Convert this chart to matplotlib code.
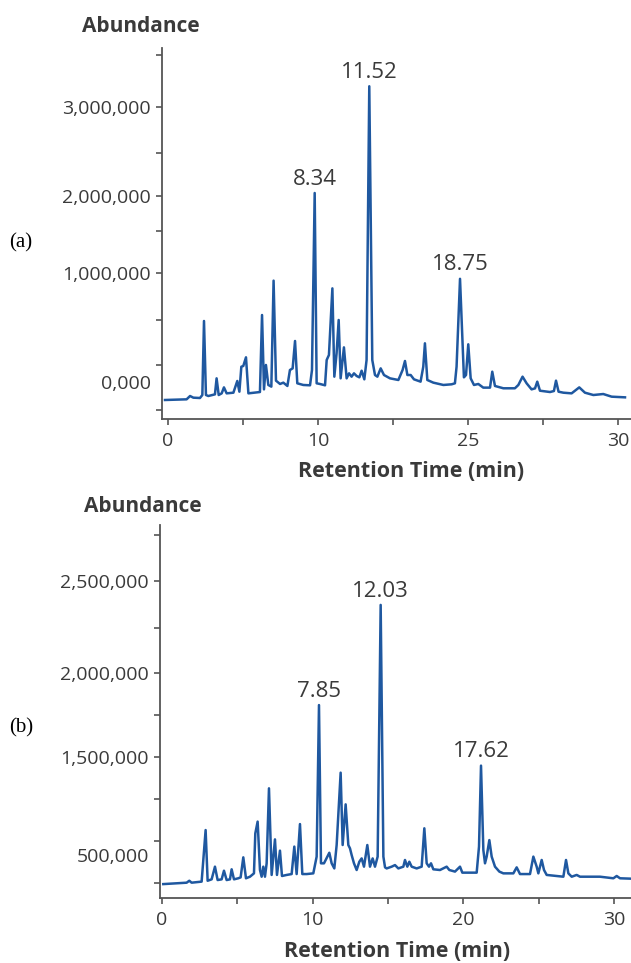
import numpy as np
import matplotlib
matplotlib.use('Agg')
import matplotlib.pyplot as plt
from matplotlib.ticker import FixedLocator, FixedFormatter

plt.rcParams['font.family'] = ['Open Sans', 'DejaVu Sans']

# ---- panel (a): retention time (min) and abundance (millions)
time_a = [-0.2, 1.24, 1.47, 1.69, 2.13, 2.29, 2.40, 2.53, 2.69, 3.13, 3.24, 3.38, 3.58, 3.73,
          3.91, 4.36, 4.62, 4.76, 4.89, 5.02, 5.20, 5.36, 6.13, 6.27, 6.40, 6.53, 6.69, 6.89,
          7.04, 7.20, 7.47, 7.69, 7.96, 8.13, 8.31, 8.47, 8.62, 9.02, 9.47, 9.60, 9.78, 9.91,
          10.13, 10.47, 10.58, 10.73, 10.96, 11.09, 11.24, 11.38, 11.51, 11.73, 11.91, 12.07,
          12.24, 12.40, 12.58, 12.76, 12.91, 13.09, 13.24, 13.42, 13.62, 13.80, 13.96, 14.18,
          14.40, 14.80, 15.36, 15.64, 15.80, 15.96, 16.18, 16.40, 16.84, 17.02, 17.13, 17.29,
          17.69, 18.36, 18.91, 19.13, 19.24, 19.47, 19.73, 19.87, 20.02, 20.18, 20.40, 20.69,
          21.02, 21.47, 21.62, 21.80, 22.36, 23.13, 23.36, 23.64, 23.91, 24.24, 24.47, 24.62,
          24.80, 25.47, 25.73, 25.87, 26.04, 26.36, 26.91, 27.42, 27.80, 28.36, 29.02, 29.58,
          30.47]
abund_a = [-0.530, -0.522, -0.482, -0.502, -0.506, -0.470, 0.422, -0.470, -0.482, -0.462,
           -0.269, -0.470, -0.450, -0.378, -0.450, -0.442, -0.301, -0.430, -0.129, -0.120,
           -0.016, -0.450, -0.434, 0.494, -0.402, -0.108, -0.349, -0.369, 0.908, -0.297,
           -0.337, -0.321, -0.361, -0.169, -0.149, 0.181, -0.329, -0.349, -0.353, -0.169,
           1.964, -0.329, -0.337, -0.353, -0.048, 0.012, 0.815, -0.249, 0.032, 0.434,
           -0.269, 0.104, -0.269, -0.209, -0.249, -0.209, -0.241, -0.257, -0.177, -0.281,
           -0.048, 3.250, -0.048, -0.229, -0.249, -0.149, -0.229, -0.269, -0.289, -0.169,
           -0.060, -0.229, -0.229, -0.281, -0.309, -0.129, 0.153, -0.289, -0.321, -0.349,
           -0.341, -0.329, -0.129, 0.930, -0.257, -0.229, 0.141, -0.269, -0.349, -0.337,
           -0.381, -0.381, -0.189, -0.361, -0.389, -0.389, -0.349, -0.249, -0.329, -0.402,
           -0.390, -0.309, -0.418, -0.434, -0.422, -0.297, -0.430, -0.442, -0.450, -0.378,
           -0.442, -0.470, -0.458, -0.490, -0.498]
peaks_a = [9.78, 13.42, 19.47]
peak_labels_a = ['8.34', '11.52', '18.75']
xtick_labels_a = ['0', '', '10', '', '25', '', '30']
ytick_labels_a = ['3,000,000', '2,000,000', '1,000,000', '0,000']
ytick_pos_a = [3.0, 1.928, 1.0, -0.313]
ymarks_a = [3.627, 3.0, 2.446, 1.928, 1.506, 1.0, 0.434, -0.108, -0.651]

# ---- panel (b)
time_b = [0.088, 1.638, 1.815, 1.970, 2.634, 2.899, 3.032, 3.298, 3.519, 3.696, 3.962, 4.117,
          4.294, 4.515, 4.626, 4.781, 5.068, 5.223, 5.400, 5.578, 5.843, 6.109, 6.197, 6.352,
          6.507, 6.618, 6.728, 6.839, 6.950, 7.105, 7.282, 7.503, 7.636, 7.835, 7.968, 8.278,
          8.610, 8.787, 8.942, 9.163, 9.318, 9.606, 10.048, 10.270, 10.425, 10.557, 10.757,
          11.111, 11.266, 11.443, 11.598, 11.863, 11.996, 12.195, 12.373, 12.483, 12.594,
          12.749, 12.926, 13.103, 13.258, 13.413, 13.634, 13.811, 13.988, 14.143, 14.320,
          14.520, 14.700, 14.810, 14.918, 15.250, 15.471, 15.693, 16.025, 16.135, 16.290,
          16.423, 16.578, 16.910, 17.242, 17.419, 17.574, 17.729, 17.862, 18.017, 18.459,
          18.902, 19.079, 19.455, 19.787, 19.942, 20.894, 21.049, 21.182, 21.337, 21.447,
          21.558, 21.735, 21.890, 22.111, 22.399, 22.665, 23.329, 23.550, 23.771, 24.435,
          24.657, 24.878, 24.989, 25.210, 25.365, 25.542, 26.206, 26.649, 26.826, 26.981,
          27.203, 27.534, 27.755, 28.419, 29.083, 29.969, 30.190, 30.411, 31.076]
abund_b = [0.778, 0.786, 0.797, 0.786, 0.792, 1.085, 0.797, 0.805, 0.877, 0.801, 0.805, 0.854,
           0.801, 0.805, 0.862, 0.805, 0.811, 0.816, 0.930, 0.811, 0.820, 0.839, 1.066, 1.133,
           0.858, 0.820, 0.877, 0.820, 0.896, 1.322, 0.830, 1.032, 0.830, 0.968, 0.824, 0.830,
           0.835, 0.991, 0.835, 1.119, 0.835, 0.835, 0.839, 0.934, 1.795, 0.896, 0.896,
           0.956, 0.896, 0.867, 1.000, 1.411, 1.000, 1.231, 1.000, 0.981, 0.943,
           0.896, 0.858, 0.905, 0.924, 0.877, 1.000, 0.877, 0.924, 0.877, 0.934,
           2.364, 0.934, 0.873, 0.867, 0.877, 0.886, 0.867, 0.877, 0.915, 0.877,
           0.905, 0.877, 0.867, 0.877, 1.095, 0.896, 0.877, 0.896, 0.862, 0.858,
           0.877, 0.858, 0.849, 0.877, 0.843, 0.843, 0.991, 1.451, 0.972, 0.896,
           0.934, 1.028, 0.934, 0.877, 0.849, 0.839, 0.839, 0.873, 0.835, 0.835,
           0.934, 0.877, 0.839, 0.915, 0.858, 0.830, 0.824, 0.820, 0.915, 0.839,
           0.820, 0.830, 0.820, 0.820, 0.820, 0.811, 0.824, 0.811, 0.809]
peaks_b = [10.425, 14.52, 21.182]
peak_labels_b = ['7.85', '12.03', '17.62']
xtick_labels_b = ['0', '', '10', '', '20', '', '30']
ytick_labels_b = ['2,500,000', '2,000,000', '1,500,000', '500,000']
ytick_pos_b = [2.5, 1.977, 1.5, 0.943]
ymarks_b = [2.761, 2.5, 2.233, 1.977, 1.739, 1.5, 1.261, 1.023, 0.784]

xticks = [0, 5, 10, 15, 20, 25, 30]
LINE = '#1f58a0'
TXT = '#3a3a3a'


def draw_panel(ax, t, y, peaks, labels, xlabels, ylabels, ypos, ymarks, xlim, ylim, xlab_xy):
    t = np.asarray(t)
    y = np.asarray(y) * 1e6
    ax.plot(t, y, color=LINE, linewidth=1.8, solid_joinstyle='round')
    for p, lab in zip(peaks, labels):
        i = np.argmin(np.abs(t - p))
        ax.annotate(lab, xy=(t[i], y[i]), xytext=(0, 10), textcoords='offset points',
                    ha='center', va='center', fontsize=16, color=TXT)
    ax.set_xlim(*xlim)
    ax.set_ylim(ylim[0] * 1e6, ylim[1] * 1e6)

    ax.xaxis.set_major_locator(FixedLocator(xticks))
    ax.xaxis.set_major_formatter(FixedFormatter(xlabels))
    ax.yaxis.set_major_locator(FixedLocator([v * 1e6 for v in ypos]))
    ax.yaxis.set_major_formatter(FixedFormatter(ylabels))
    ax.yaxis.set_minor_locator(FixedLocator([v * 1e6 for v in ymarks]))
    ax.yaxis.remove_overlapping_locs = False

    ax.tick_params(axis='x', direction='out', length=4, width=1.2, pad=5,
                   labelsize=14, colors='#555555', labelcolor=TXT)
    ax.tick_params(axis='y', which='major', length=0, pad=8, labelsize=14, labelcolor=TXT)
    ax.tick_params(axis='y', which='minor', direction='out', length=4, width=1.2,
                   colors='#555555')

    for side in ['top', 'right']:
        ax.spines[side].set_visible(False)
    for side in ['left', 'bottom']:
        ax.spines[side].set_color('#555555')
        ax.spines[side].set_linewidth(1.3)

    ax.set_xlabel('Retention Time (min)', fontsize=15.5, fontweight='bold', color=TXT)
    ax.xaxis.set_label_coords(*xlab_xy)


fig = plt.figure(figsize=(6.31, 9.63), dpi=100)

ax_a = fig.add_axes([162 / 631, 544 / 963, 469 / 631, 371 / 963])
draw_panel(ax_a, time_a, abund_a, peaks_a, peak_labels_a, xtick_labels_a,
           ytick_labels_a, ytick_pos_a, ymarks_a, (-0.4, 30.87), (-0.759, 3.711),
           (0.531, -0.112))

ax_b = fig.add_axes([160 / 631, 65 / 963, 471 / 631, 373 / 963])
draw_panel(ax_b, time_b, abund_b, peaks_b, peak_labels_b, xtick_labels_b,
           ytick_labels_b, ytick_pos_b, ymarks_b, (-0.13, 31.14), (0.699, 2.818),
           (0.503, -0.114))

fig.text(82 / 631, 1 - 27 / 963, 'Abundance', fontsize=15, fontweight='bold',
         color=TXT, ha='left', va='center')
fig.text(84 / 631, 1 - 506 / 963, 'Abundance', fontsize=15, fontweight='bold',
         color=TXT, ha='left', va='center')
fig.text(9 / 631, 1 - 243 / 963, '(a)', fontsize=15, family='Liberation Serif',
         ha='left', va='center')
fig.text(9 / 631, 1 - 728 / 963, '(b)', fontsize=15, family='Liberation Serif',
         ha='left', va='center')

fig.savefig('out.png', dpi=100)
